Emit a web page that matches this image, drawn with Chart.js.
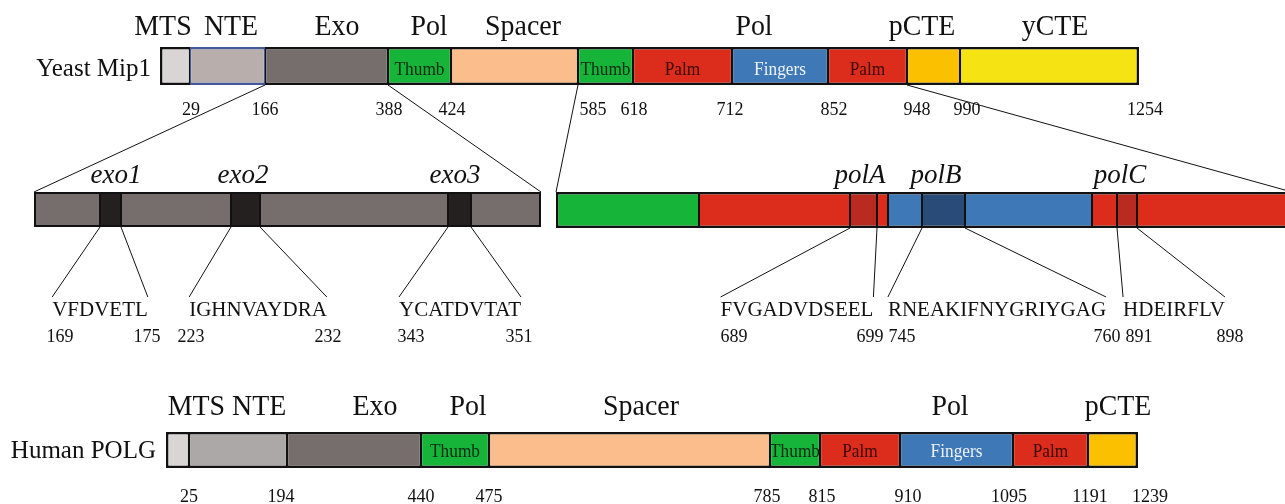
<!DOCTYPE html>
<html><head><meta charset="utf-8">
<script src="https://cdn.jsdelivr.net/npm/chart.js@4.4.1/dist/chart.umd.min.js"></script>
<style>html,body{margin:0;padding:0;background:#fff;overflow:hidden}#wrap{width:1285px;height:504px;position:relative}</style>
</head><body><div id="wrap"><canvas id="c"></canvas></div>
<script>
// ---------------- data ----------------
const yeastSegments = ['MTS','NTE','Exo','Thumb','Spacer','Thumb','Palm','Fingers','Palm','pCTE','yCTE'];
const yeastEdges = [160,190,265,388,451,578,633,732,828,907,960,1139];
const yeastResidues = ['29','166','388','424','585','618','712','852','948','990','1254'];
const yeastDomains = ['MTS','NTE','Exo','Pol','Spacer','Pol','pCTE','yCTE'];

const humanSegments = ['MTS','NTE','Exo','Thumb','Spacer','Thumb','Palm','Fingers','Palm','pCTE'];
const humanEdges = [166,189,287,421,489,770,820,900,1013,1088,1138];
const humanResidues = ['25','194','440','475','785','815','910','1095','1191','1239'];
const humanDomains = ['MTS NTE','Exo','Pol','Spacer','Pol','pCTE'];

const exoSegments = ['Exo','exo1','Exo','exo2','Exo','exo3','Exo'];
const exoEdges = [34,100,121,231,260,448,471,541];
const exoMotifs = ['exo1','exo2','exo3'];
const exoSequences = ['VFDVETL','IGHNVAYDRA','YCATDVTAT'];
const exoResidues = [['169','175'],['223','232'],['343','351']];

const polSegments = ['Thumb','Palm','polA','Palm','Fingers','polB','Fingers','Palm','polC','Palm'];
const polEdges = [556,699,850,877,888,922,965,1092,1117,1137,1292];
const polMotifs = ['polA','polB','polC'];
const polSequences = ['FVGADVDSEEL','RNEAKIFNYGRIYGAG','HDEIRFLV'];
const polResidues = [['689','699'],['745','760'],['891','898']];

// ---------------- layout / style ----------------
const FONT = '"Liberation Serif", "Times New Roman", serif';
const rows = { yeast:{y:66,h:38}, exo:{y:209.5,h:35}, pol:{y:210,h:36}, human:{y:450,h:36} };
const fills = { MTS:'#d9d5d5', NTE:'#b8afad', Exo:'#766e6c', Thumb:'#17b43a', Spacer:'#fbbd8b',
  Palm:'#dc2d1c', Fingers:'#3f78b7', pCTE:'#fbc000', yCTE:'#f5e313',
  exo1:'#242020', exo2:'#242020', exo3:'#242020', polA:'#b92a20', polB:'#284b78', polC:'#b92a20' };
const humanFills = Object.assign({}, fills, { NTE:'#aca8a7' });
const innerText = { Thumb:{size:18,color:'#0c2a12'}, Palm:{size:18,color:'#3a0805'}, Fingers:{size:18,color:'#eef2fa'} };

const yeastDomainX = [163,231,337,429,523,754,922,1055];
const humanDomainX = [227,375,468,641,950,1118];
const yeastResidueX = [191,265,389,452,593,634,730,834,917,967,1145];
const humanResidueX = [189,281,421,489,767,822,908,1009,1090,1150];
const exoMotifX = [116,243,455];
const polMotifX = [860,936,1120];
const exoSeqX = [100,258,460];
const polSeqX = [797,997,1174];
const exoResX = [[60,147],[191,328],[411,519]];
const polResX = [[734,870],[902,1107],[1139,1230]];
const SEQ_FONT = '21px ' + FONT;
const SEQ_BASE = 316, SEQ_TOP = 297;

// ---------------- helpers ----------------
const mctx = document.createElement('canvas').getContext('2d');
mctx.font = SEQ_FONT;
const halfW = s => mctx.measureText(s).width / 2;

function barDataset(segments, edges, row, palette, bw, sideBw, special) {
  const n = segments.length;
  return {
    type: 'bar',
    data: segments.map((s, i) => ({ x: [edges[i], edges[i + 1]], y: row.y })),
    backgroundColor: segments.map(s => palette[s]),
    borderColor: segments.map(s => (special && special[s]) || '#111'),
    borderWidth: segments.map((s, i) => ({ top: bw, bottom: bw,
      left: i === 0 ? bw : sideBw, right: i === n - 1 ? bw : sideBw })),
    borderSkipped: false,
    barThickness: row.h,
    grouped: false,
    inflateAmount: 0,
    order: 2
  };
}
function link(x1, y1, x2, y2) {
  return { type: 'line', data: [{ x: x1, y: y1 }, { x: x2, y: y2 }], borderColor: '#111', borderWidth: 1,
    pointRadius: 0, fill: false, order: 1, tension: 0 };
}
const rowBot = r => r.y + r.h / 2, rowTop = r => r.y - r.h / 2;

const datasets = [
  barDataset(yeastSegments, yeastEdges, rows.yeast, fills, 2.5, 1.25, { NTE: '#44589a' }),
  barDataset(exoSegments, exoEdges, rows.exo, fills, 2, 1),
  barDataset(polSegments, polEdges, rows.pol, fills, 2.5, 1),
  barDataset(humanSegments, humanEdges, rows.human, humanFills, 2.5, 1.25),
  link(yeastEdges[2], rowBot(rows.yeast), exoEdges[0], rowTop(rows.exo)),
  link(yeastEdges[3], rowBot(rows.yeast), exoEdges[exoEdges.length - 1], rowTop(rows.exo)),
  link(yeastEdges[5], rowBot(rows.yeast), polEdges[0], rowTop(rows.pol)),
  link(yeastEdges[9], rowBot(rows.yeast), polEdges[polEdges.length - 1], rowTop(rows.pol))
];
function motifLinks(segments, edges, motifs, seqs, seqX, row) {
  motifs.forEach((m, k) => {
    const i = segments.indexOf(m);
    const hw = halfW(seqs[k]);
    datasets.push(link(edges[i], rowBot(row), seqX[k] - hw, SEQ_TOP));
    datasets.push(link(edges[i + 1], rowBot(row), seqX[k] + hw, SEQ_TOP));
  });
}
motifLinks(exoSegments, exoEdges, exoMotifs, exoSequences, exoSeqX, rows.exo);
motifLinks(polSegments, polEdges, polMotifs, polSequences, polSeqX, rows.pol);

// ---------------- text plugin ----------------
const textPlugin = {
  id: 'texts',
  afterDatasetsDraw(chart) {
    const c = chart.ctx, xs = chart.scales.x, ys = chart.scales.y;
    const X = v => xs.getPixelForValue(v), Y = v => ys.getPixelForValue(v);
    const put = (t, x, y, font, align, color, sx) => {
      c.save(); c.font = font; c.textAlign = align || 'center'; c.textBaseline = 'alphabetic';
      c.fillStyle = color || '#111';
      c.translate(x, y); c.scale(sx || 1, 1); c.fillText(t, 0, 0); c.restore();
    };
    put('Yeast Mip1', X(yeastEdges[0]) - 9, Y(76), '25px ' + FONT, 'right');
    put('Human POLG', X(humanEdges[0]) - 10, Y(458), '25px ' + FONT, 'right');
    yeastDomains.forEach((t, i) => put(t, X(yeastDomainX[i]), Y(35), '30px ' + FONT, 'center', '#111', 0.93));
    humanDomains.forEach((t, i) => put(t, X(humanDomainX[i]), Y(415), '30px ' + FONT, 'center', '#111', 0.93));
    yeastResidues.forEach((t, i) => put(t, X(yeastResidueX[i]), Y(115), '18px ' + FONT));
    humanResidues.forEach((t, i) => put(t, X(humanResidueX[i]), Y(502), '18px ' + FONT));
    const inner = (segs, edges, base) => segs.forEach((s, i) => {
      const st = innerText[s]; if (!st) return;
      put(s, X((edges[i] + edges[i + 1]) / 2), Y(base), st.size + 'px ' + FONT, 'center', st.color, 0.96);
    });
    inner(yeastSegments, yeastEdges, 75);
    inner(humanSegments, humanEdges, 457);
    exoMotifs.forEach((t, i) => put(t, X(exoMotifX[i]), Y(183), 'italic 27px ' + FONT));
    polMotifs.forEach((t, i) => put(t, X(polMotifX[i]), Y(183), 'italic 27px ' + FONT));
    exoSequences.forEach((t, i) => put(t, X(exoSeqX[i]), Y(SEQ_BASE), SEQ_FONT));
    polSequences.forEach((t, i) => put(t, X(polSeqX[i]), Y(SEQ_BASE), SEQ_FONT));
    exoResidues.forEach((p, i) => p.forEach((t, j) => put(t, X(exoResX[i][j]), Y(342), '18px ' + FONT)));
    polResidues.forEach((p, i) => p.forEach((t, j) => put(t, X(polResX[i][j]), Y(342), '18px ' + FONT)));
  }
};

new Chart(document.getElementById('c'), {
  data: { datasets },
  options: {
    indexAxis: 'y',
    responsive: true,
    maintainAspectRatio: false,
    animation: false,
    layout: { padding: 0 },
    plugins: { legend: { display: false }, tooltip: { enabled: false } },
    scales: {
      x: { type: 'linear', min: 0, max: 1285, offset: false, display: false },
      y: { type: 'linear', min: 0, max: 504, reverse: true, offset: false, display: false }
    }
  },
  plugins: [textPlugin]
});
</script>
</body></html>
